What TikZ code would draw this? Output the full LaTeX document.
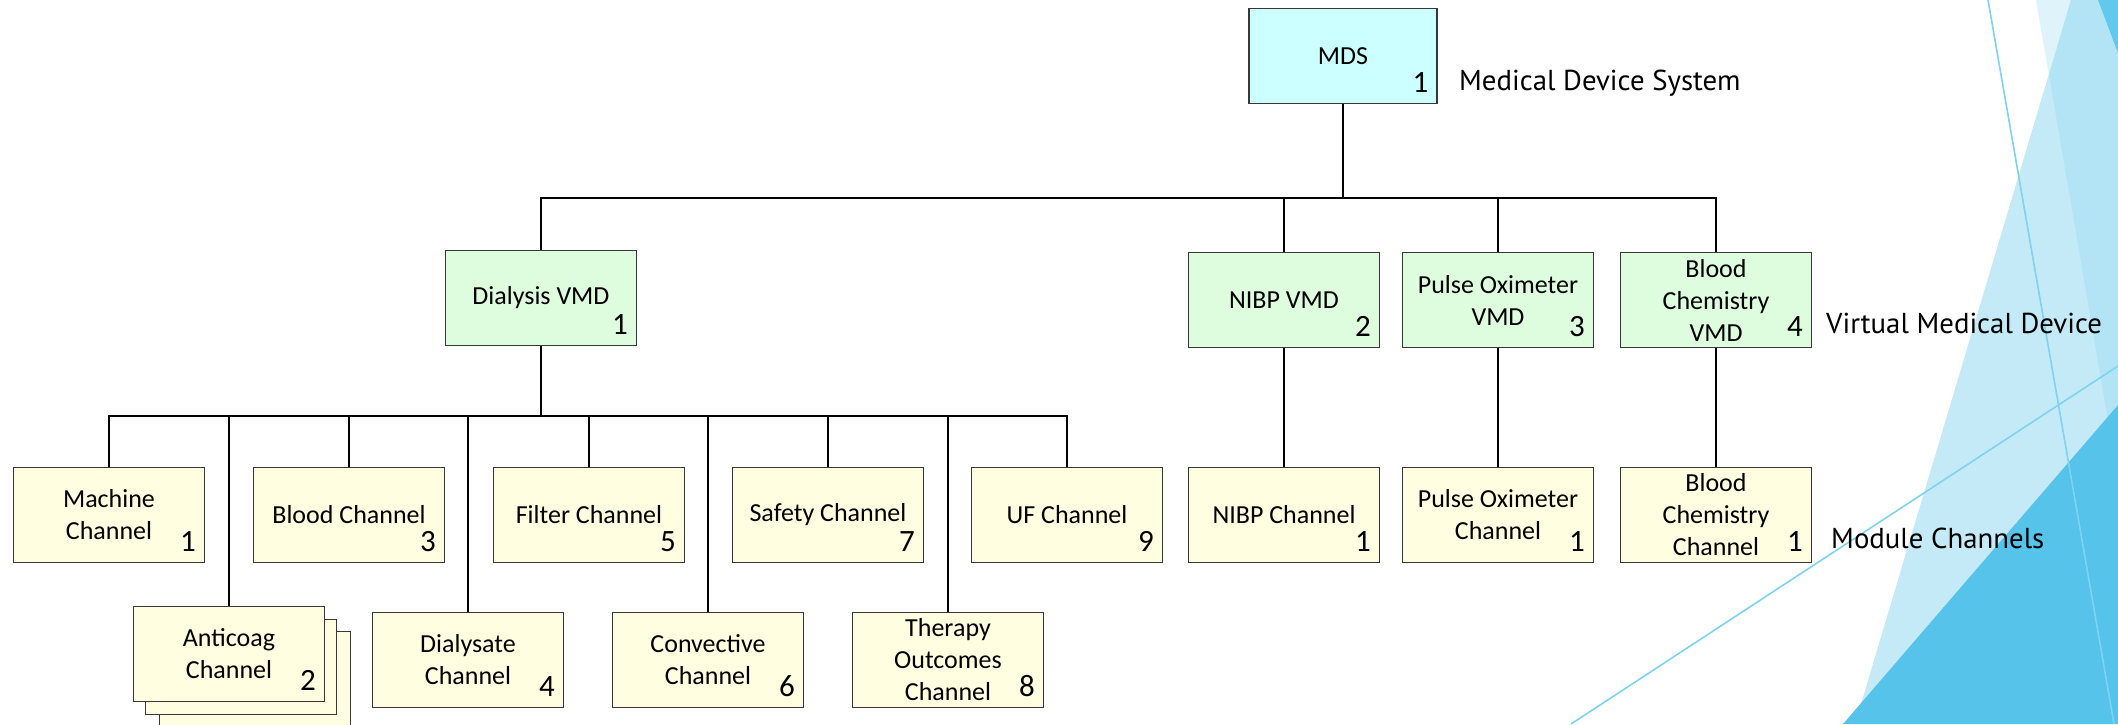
\documentclass[tikz,border=0pt]{standalone}
\usepackage{fontspec}
\setmainfont{Carlito}
\newfontfamily\lblfont{PT Sans}
\definecolor{mdsfill}{HTML}{CCFFFF}
\definecolor{vmdfill}{HTML}{DDFDDE}
\definecolor{chanfill}{HTML}{FFFEE0}
\definecolor{decoA}{HTML}{DFF3FA}
\definecolor{decoB}{HTML}{C5EAF7}
\definecolor{decoAB}{HTML}{B2E4F5}
\definecolor{decoC}{HTML}{55C3EA}
\definecolor{decoD}{HTML}{62C8EC}
\definecolor{decoLine}{HTML}{7DD3F0}
\begin{document}
\begin{tikzpicture}[x=1pt,y=-1pt,
  box/.style={draw=black!78, line width=1.2pt, minimum width=191pt, minimum height=95pt, inner sep=0pt, align=center, font=\fontsize{26}{32}\selectfont},
  mdsbox/.style={box, fill=mdsfill, minimum width=188pt},
  vmd/.style={box, fill=vmdfill},
  chan/.style={box, fill=chanfill},
  num/.style={anchor=base east, inner sep=0pt, font=\fontsize{31}{31}\selectfont},
  lvl/.style={anchor=base west, inner sep=0pt, font=\lblfont\fontsize{28.8}{29}\selectfont},
  conn/.style={draw=black, line width=2.2pt},
  deco/.style={line width=1.6pt, draw=decoLine}
]
\useasboundingbox (0,0) rectangle (2118,724);
% background decoration
\fill[decoA] (2036,0) -- (2118,0) -- (2118,479) -- cycle;
\fill[decoB] (2071,0) -- (2118,0) -- (2118,724) -- (1855,724) -- cycle;
\fill[decoAB] (2071,0) -- (2118,0) -- (2118,479) -- (2049,75) -- cycle;
\fill[decoC] (1843,724) -- (2118,405) -- (2118,724) -- cycle;
\fill[decoD] (2098,0) -- (2118,0) -- (2118,53) -- cycle;
\coordinate (dl1a) at (1988,0);
\coordinate (dl1b) at (2114,724);
\coordinate (dl2a) at (1571,724);
\coordinate (dl2b) at (2118,366);
\draw[deco] (dl1a) -- (dl1b);
\draw[deco] (dl2a) -- (dl2b);

% nodes
\node[mdsbox] (mds) at (1343,56) {MDS};
\node[vmd] (dial) at (541,298) {Dialysis VMD};
\node[vmd] (nibp) at (1284,300) {NIBP VMD};
\node[vmd] (pox) at (1498,300) {Pulse Oximeter\\VMD};
\node[vmd] (bcv) at (1716,300) {Blood\\Chemistry\\VMD};

\node[chan] (mach) at (109,515) {Machine\\Channel};
\node[chan] (blood) at (349,515) {Blood Channel};
\node[chan] (filt) at (589,515) {Filter Channel};
\node[chan] (safe) at (828,515) {Safety Channel};
\node[chan] (uf) at (1067,515) {UF Channel};
\node[chan] (nibpc) at (1284,515) {NIBP Channel};
\node[chan] (poxc) at (1498,515) {Pulse Oximeter\\Channel};
\node[chan] (bcc) at (1716,515) {Blood\\Chemistry\\Channel};

\node[chan] (anti3) at (255,679) {};
\node[chan] (anti2) at (241,667) {};
\node[chan] (anti) at (229,654) {Anticoag\\Channel};
\node[chan] (dialy) at (468,660) {Dialysate\\Channel};
\node[chan] (conv) at (708,660) {Convective\\Channel};
\node[chan] (ther) at (948,660) {Therapy\\Outcomes\\Channel};

% multiplicities
\foreach \n/\v in {mds/1,dial/1,nibp/2,pox/3,bcv/4,mach/1,blood/3,filt/5,safe/7,uf/9,nibpc/1,poxc/1,bcc/1,anti/2,dialy/4,conv/6,ther/8}
  \node[num] (n-\n) at ([xshift=-9pt,yshift=12pt]\n.south east) {\v};

% level labels
\node[lvl] (lvl-mds) at (1459,90) {Medical Device System};
\node[lvl] (lvl-vmd) at (1826,333) {Virtual Medical Device};
\node[lvl] (lvl-chan) at (1831,548) {Module Channels};

% connectors
\coordinate (bus1) at (1343,198);
\draw[conn] (mds.south) -- (bus1);
\foreach \n in {dial,nibp,pox,bcv}
  \draw[conn] (\n.north) |- (bus1);
\coordinate (bus2) at (541,416);
\draw[conn] (dial.south) -- (bus2);
\foreach \n in {mach,anti,blood,dialy,filt,conv,safe,ther,uf}
  \draw[conn] (\n.north) |- (bus2);
\draw[conn] (nibp.south) -- (nibpc.north);
\draw[conn] (pox.south) -- (poxc.north);
\draw[conn] (bcv.south) -- (bcc.north);
\end{tikzpicture}
\end{document}
